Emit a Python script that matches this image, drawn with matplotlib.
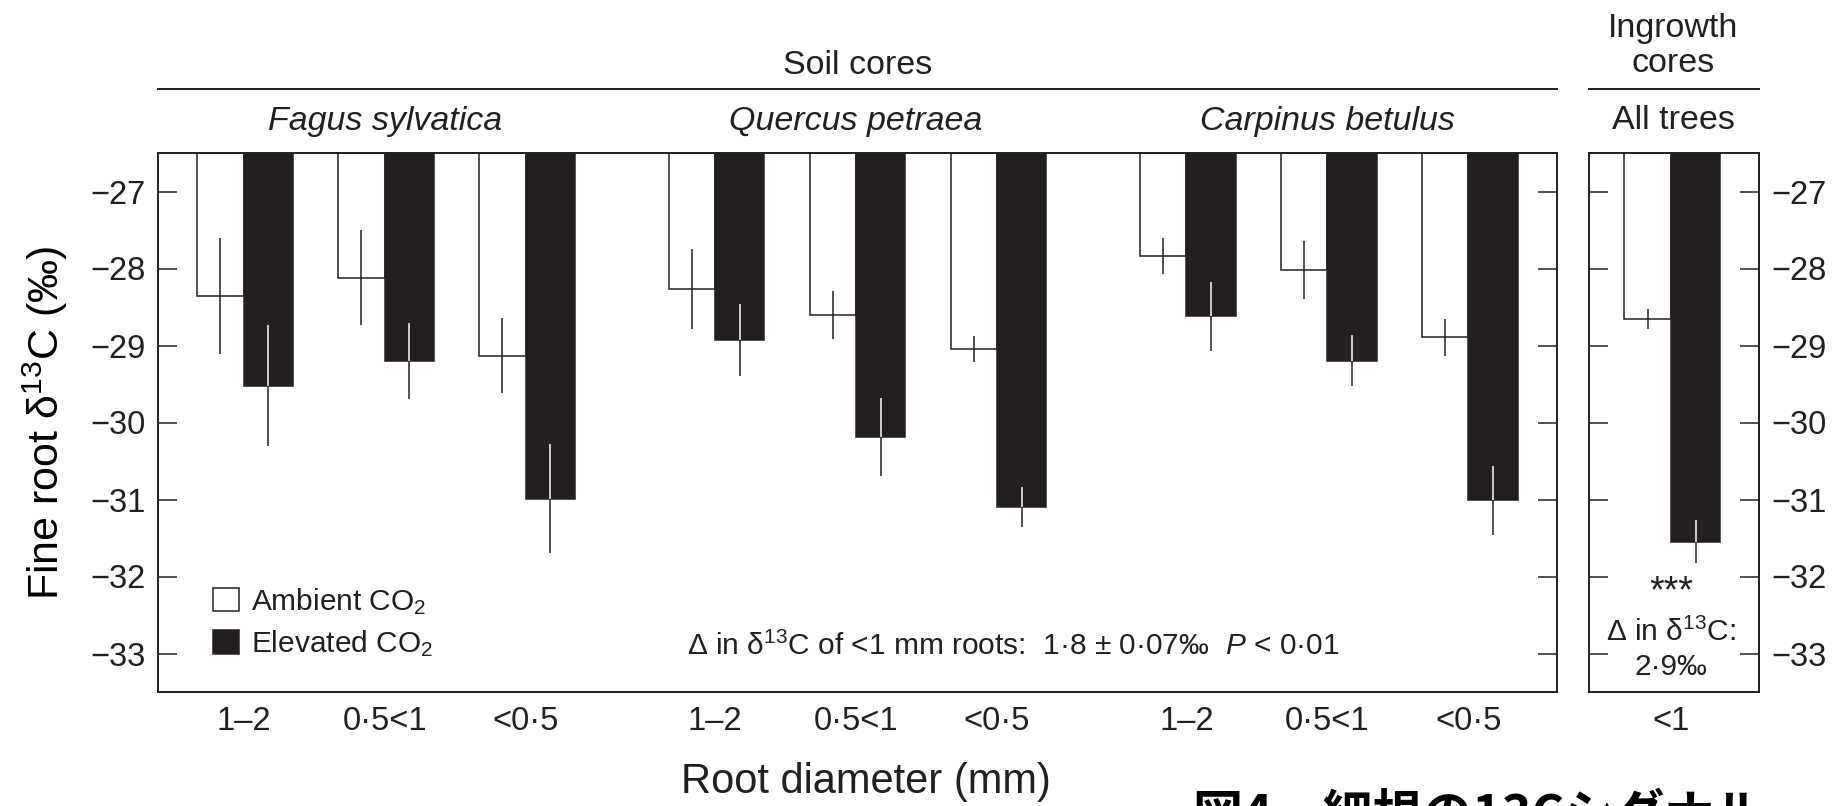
import matplotlib
matplotlib.use("Agg")
import matplotlib.pyplot as plt
from matplotlib.patches import Patch

# ---------------- data ----------------
species = ["Fagus sylvatica", "Quercus petraea", "Carpinus betulus"]
diameter_labels = ["1–2", "0·5<1", "<0·5"]

ambient_mean = [-28.36, -28.12, -29.13,   -28.27, -28.60, -29.05,   -27.84, -28.02, -28.89]
ambient_err = [0.75, 0.62, 0.49,          0.52, 0.31, 0.17,         0.23, 0.38, 0.24]
elevated_mean = [-29.52, -29.20, -30.99,  -28.93, -30.19, -31.10,   -28.62, -29.20, -31.01]
elevated_err = [0.78, 0.49, 0.71,         0.47, 0.51, 0.26,         0.45, 0.33, 0.45]

ingrowth_labels = ["<1"]
ingrowth_ambient_mean = [-28.65]
ingrowth_ambient_err = [0.13]
ingrowth_elevated_mean = [-31.55]
ingrowth_elevated_err = [0.28]

yticks = [-33, -32, -31, -30, -29, -28, -27]

# ---------------- style ----------------
INK = "#231f20"
plt.rcParams["font.family"] = ["Liberation Sans", "DejaVu Sans"]
plt.rcParams["mathtext.fontset"] = "custom"
plt.rcParams["mathtext.rm"] = "Liberation Sans"
plt.rcParams["mathtext.it"] = "Liberation Sans:italic"
plt.rcParams["mathtext.bf"] = "Liberation Sans:bold"
plt.rcParams["text.color"] = INK
plt.rcParams["axes.edgecolor"] = INK
plt.rcParams["xtick.color"] = INK
plt.rcParams["ytick.color"] = INK

TOP, BOTTOM = -26.5, -33.5
W_AMB, W_ELE = 0.33, 0.35
GROUP_GAP = 1.3426

fig = plt.figure(figsize=(18.48, 8.06), dpi=100)
ax_bottom, ax_h = 114 / 806, 539 / 806
ax = fig.add_axes([158 / 1848, ax_bottom, 1399.3 / 1848, ax_h])
ax2 = fig.add_axes([1589 / 1848, ax_bottom, 170.3 / 1848, ax_h])


def draw_pairs(a, centers, amb_m, amb_e, ele_m, ele_e):
    xa = [c - W_AMB / 2 for c in centers]
    xe = [c + W_ELE / 2 for c in centers]
    a.bar(xa, [m - TOP for m in amb_m], width=W_AMB, bottom=TOP,
          facecolor="white", edgecolor=INK, linewidth=1.1, zorder=2)
    a.bar(xe, [m - TOP for m in ele_m], width=W_ELE, bottom=TOP,
          facecolor=INK, edgecolor=INK, linewidth=1.1, zorder=2)
    a.vlines(xa, [m - e for m, e in zip(amb_m, amb_e)],
             [m + e for m, e in zip(amb_m, amb_e)], color=INK, lw=1.1, zorder=3)
    a.vlines(xe, [m - e for m, e in zip(ele_m, ele_e)], ele_m, color=INK, lw=1.1, zorder=3)
    a.vlines(xe, ele_m, [m + e for m, e in zip(ele_m, ele_e)], color="white", lw=1.1, zorder=3)


n_per = len(diameter_labels)
centers = [g * (n_per + GROUP_GAP - 1) + i for g in range(len(species)) for i in range(n_per)]
draw_pairs(ax, centers, ambient_mean, ambient_err, elevated_mean, elevated_err)
draw_pairs(ax2, [0], ingrowth_ambient_mean, ingrowth_ambient_err,
           ingrowth_elevated_mean, ingrowth_elevated_err)

for a in (ax, ax2):
    a.set_ylim(BOTTOM, TOP)
    a.set_yticks(yticks)
    for s in a.spines.values():
        s.set_linewidth(1.4)
    a.tick_params(axis="y", direction="in", length=14, width=1.1, pad=8.6,
                  labelsize=23.5, left=True, right=True)
    a.tick_params(axis="x", length=0, pad=10, labelsize=23.5)

ax.set_xlim(-0.608, 9.316)
ax2.set_xlim(-0.5816, 0.626)
ax.tick_params(axis="y", labelleft=True, labelright=False)
ax2.tick_params(axis="y", labelleft=False, labelright=True)

ax.set_xticks(centers, diameter_labels * len(species))
ax2.set_xticks([0], ingrowth_labels)

# y label
ax.set_ylabel("Fine root δ$^{13}$C (‰)", fontsize=31)
ax.yaxis.set_label_coords(-0.0629, 0.5)
# x label
fig.text(865.5 / 1848, (806 - 793) / 806, "Root diameter (mm)", fontsize=30,
         ha="center", va="baseline")

# headers
xt = ax.get_xaxis_transform()
for g, name in enumerate(species):
    gc = centers[g * n_per + 1]
    ax.text(gc, 1.0435, name, transform=xt, ha="center", va="baseline",
            fontsize=24.5, style="italic")
ax.plot([0, 1], [1.1182, 1.1182], transform=ax.transAxes, clip_on=False, color=INK, lw=1.4)
ax.text(0.5, 1.147, "Soil cores", transform=ax.transAxes, ha="center", va="baseline", fontsize=24.5)

ax2.text(0.495, 1.044, "All trees", transform=ax2.transAxes, ha="center", va="baseline", fontsize=24.5)
ax2.plot([0, 1], [1.1182, 1.1182], transform=ax2.transAxes, clip_on=False, color=INK, lw=1.4)
ax2.text(0.495, 1.151, "cores", transform=ax2.transAxes, ha="center", va="baseline", fontsize=24.5)
ax2.text(0.495, 1.2158, "Ingrowth", transform=ax2.transAxes, ha="center", va="baseline", fontsize=24.5)

# legend
handles = [Patch(facecolor="white", edgecolor=INK, linewidth=1.1),
           Patch(facecolor=INK, edgecolor=INK, linewidth=1.1)]
ax.legend(handles, ["Ambient CO$_2$", "Elevated CO$_2$"], loc="upper left",
          bbox_to_anchor=(0.0395, 0.197), frameon=False, fontsize=21.5,
          handlelength=0.85, handleheight=0.85, handletextpad=0.4,
          labelspacing=0.38, borderpad=0, borderaxespad=0)

# annotations
ax.text(3.143, -32.91, "Δ in δ$^{13}$C of <1 mm roots:  1·8 ± 0·07‰  $P$ < 0·01",
        ha="left", va="center", fontsize=21.5)
ax2.text(0, -32.2, "***", ha="center", va="center", fontsize=27)
ax2.text(0, -32.72, "Δ in δ$^{13}$C:", ha="center", va="center", fontsize=21.5)
ax2.text(0, -33.17, "2·9‰", ha="center", va="center", fontsize=21.5)

# Japanese caption (partly cut by the bottom edge, as in the reference)
fig.text(1193 / 1848, (806 - 831) / 806, "図4　細根の13Cシグナル", fontsize=36,
         weight="bold", family=["Noto Sans CJK JP", "DejaVu Sans"],
         ha="left", va="baseline", color="black")

fig.savefig("out.png", dpi=100)
